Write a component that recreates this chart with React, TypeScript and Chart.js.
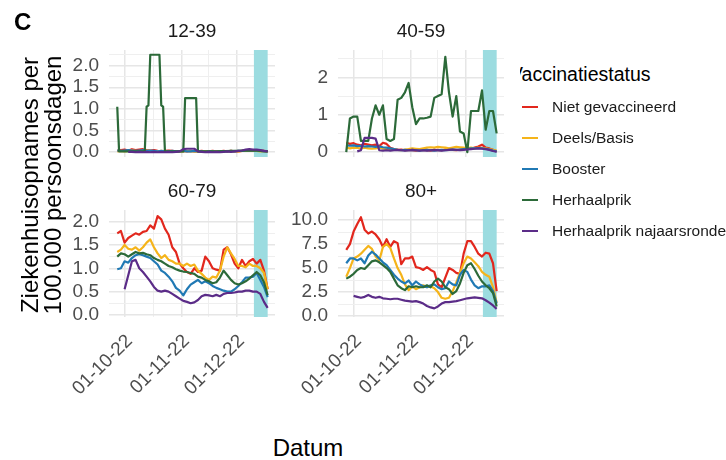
import React, { useEffect, useRef } from 'react';
import { Chart, registerables } from 'chart.js';
Chart.register(...registerables);

const FONT = '"Liberation Sans", Arial, Helvetica, sans-serif';

// ---------- data ----------
const days = [-4, -2, 0, 2, 4, 6, 8, 10, 12, 14, 16, 18, 20, 22, 24, 26, 28, 30, 32, 34, 36, 38, 40, 42, 44, 46, 48, 50, 52, 54, 56, 58, 60, 62, 64, 66, 68, 70, 72, 74, 76, 78];

const seriesNames = ['Niet gevaccineerd', 'Deels/Basis', 'Booster', 'Herhaalprik', 'Herhaalprik najaarsronde'];
const seriesColors = ['#E2271D', '#F5B41A', '#2079B4', '#2C6A39', '#5B2C88'];

const dateTicks = [0, 31, 61];
const dateLabels = ['01-10-22', '01-11-22', '01-12-22'];
const dateMinorTicks = [15.5, 46, 76];
const bandStart = 70.5;
const bandEnd = 78;

// 12-39
const niet1239 = [0.03,0.05,0.06,0.04,0.07,0.05,0.06,0.07,0.05,0.04,0.05,0.03,0.02,0.03,0.04,0.03,0.02,0.02,0.03,0.02,0.03,0.02,0.02,0.03,0.02,0.02,0.03,0.02,0.02,0.03,0.02,0.03,0.02,0.02,0.03,0.04,0.05,0.04,0.05,0.04,0.03,0.02];
const deels1239 = [0.02,0.03,0.02,0.03,0.04,0.03,0.02,0.03,0.04,0.03,0.02,0.02,0.03,0.02,0.01,0.02,0.02,0.01,0.02,0.03,0.02,0.02,0.01,0.02,0.02,0.01,0.02,0.02,0.01,0.02,0.02,0.03,0.02,0.02,0.03,0.03,0.04,0.03,0.03,0.02,0.02,0.01];
const booster1239 = [0.04,0.03,0.04,0.05,0.04,0.03,0.04,0.05,0.03,0.04,0.03,0.02,0.03,0.02,0.02,0.03,0.02,0.02,0.03,0.02,0.02,0.03,0.02,0.02,0.01,0.02,0.02,0.01,0.02,0.02,0.02,0.03,0.02,0.03,0.03,0.04,0.05,0.04,0.04,0.03,0.02,0.02];
const herhaalDays1239 = [-4, -3, 11, 12, 13, 14, 19, 20, 21, 22, 32, 33, 39, 40, 50, 60, 70, 78];
const herhaal1239 = [1.05, 0.02, 0.02, 1.05, 1.08, 2.25, 2.25, 1.08, 1.05, 0.02, 0.02, 1.25, 1.25, 0.02, 0.02, 0.03, 0.04, 0.02];
const najaar1239 = [null,null,null,0.01,0.01,0.0,0.01,0.0,0.01,0.0,0.01,0.0,0.01,0.0,0.01,0.0,0.01,0.02,0.07,0.08,0.08,0.08,0.02,0.01,0.0,0.01,0.0,0.01,0.0,0.01,0.02,0.01,0.02,0.03,0.04,0.06,0.07,0.06,0.06,0.05,0.03,0.02];

// 40-59
const niet4059 = [0.25,0.22,0.24,0.2,0.18,0.22,0.2,0.18,0.2,0.16,0.25,0.22,0.12,0.08,0.06,0.07,0.05,0.06,0.05,0.04,0.05,0.06,0.05,0.04,0.05,0.06,0.05,0.07,0.08,0.06,0.05,0.07,0.08,0.1,0.09,0.12,0.15,0.2,0.12,0.1,0.06,0.02];
const deels4059 = [0.12,0.1,0.12,0.11,0.1,0.12,0.1,0.09,0.1,0.12,0.1,0.08,0.07,0.08,0.06,0.05,0.07,0.08,0.1,0.09,0.08,0.1,0.12,0.13,0.12,0.14,0.13,0.12,0.1,0.12,0.14,0.13,0.12,0.11,0.12,0.1,0.12,0.11,0.1,0.08,0.06,0.04];
const booster4059 = [0.18,0.17,0.18,0.16,0.17,0.15,0.16,0.15,0.14,0.15,0.13,0.12,0.1,0.08,0.06,0.05,0.06,0.05,0.06,0.05,0.04,0.05,0.06,0.05,0.04,0.05,0.06,0.05,0.06,0.07,0.06,0.07,0.08,0.09,0.1,0.1,0.11,0.1,0.09,0.07,0.04,0.02];
const herhaal4059 = [0.0,0.9,0.95,0.95,0.3,0.3,0.3,0.9,1.25,1.0,1.25,0.35,0.3,0.35,1.4,1.45,1.6,1.85,1.2,0.75,0.9,0.9,0.92,0.95,1.45,1.5,1.55,2.55,1.6,0.95,1.5,0.55,0.5,0.0,1.1,1.1,1.1,1.65,0.6,1.1,1.1,0.5];
const najaar4059 = [null,null,null,0.02,0.05,0.38,0.38,0.38,0.36,0.05,0.04,0.05,0.04,0.05,0.06,0.05,0.04,0.05,0.06,0.05,0.04,0.05,0.04,0.05,0.06,0.05,0.04,0.05,0.06,0.07,0.06,0.05,0.06,0.07,0.08,0.09,0.1,0.09,0.08,0.06,0.03,0.01];

// 60-79
const niet6079 = [1.75,1.8,1.55,1.65,1.7,1.75,1.72,1.78,1.8,1.92,1.85,2.12,2.05,1.85,1.72,1.45,1.35,1.1,1.0,0.92,0.88,1.0,0.92,0.95,1.25,1.15,1.0,0.97,0.95,1.4,1.45,1.3,1.1,1.0,1.18,1.05,1.15,1.2,1.1,1.18,0.95,0.55];
const deels6079 = [1.35,1.4,1.5,1.42,1.4,1.45,1.38,1.45,1.55,1.62,1.45,1.32,1.22,1.28,1.18,1.15,1.1,1.1,1.05,1.1,1.05,1.08,0.95,0.88,0.8,0.75,0.82,0.8,0.95,1.25,1.45,1.32,1.2,1.05,1.05,1.02,1.1,1.05,1.05,1.0,0.9,0.55];
const booster6079 = [0.98,1.0,1.15,1.12,1.22,1.28,1.3,1.28,1.25,1.22,1.15,1.08,0.95,0.9,0.82,0.72,0.58,0.52,0.42,0.55,0.65,0.7,0.75,0.68,0.72,0.68,0.62,0.58,0.55,0.52,0.5,0.5,0.55,0.62,0.7,0.8,0.8,0.82,0.9,0.75,0.6,0.38];
const herhaal6079 = [1.25,1.32,1.3,1.25,1.3,1.35,1.32,1.33,1.3,1.28,1.22,1.18,1.15,1.1,1.05,1.02,0.98,0.95,0.93,0.92,0.9,0.88,0.82,0.8,0.75,0.72,0.68,0.7,0.8,0.95,0.85,0.75,0.68,0.65,0.68,0.72,0.78,0.85,0.92,0.85,0.7,0.42];
const najaar6079 = [null,null,0.55,0.85,1.15,1.18,1.0,0.92,0.82,0.72,0.6,0.52,0.5,0.52,0.5,0.45,0.4,0.35,0.3,0.28,0.25,0.27,0.32,0.4,0.43,0.42,0.4,0.43,0.4,0.45,0.47,0.47,0.48,0.5,0.5,0.52,0.52,0.5,0.5,0.45,0.28,0.15];

// 80+
const niet80 = [6.9,7.5,8.8,9.6,10.3,9.0,8.6,8.8,8.5,8.0,7.2,8.0,7.2,7.8,7.6,5.4,6.0,6.0,6.2,5.1,5.0,4.8,5.1,4.8,4.6,3.3,3.0,4.0,5.0,4.8,4.5,4.4,6.5,7.8,7.8,7.2,6.5,6.2,6.6,6.5,5.5,2.6];
const deels80 = [4.1,5.0,6.0,6.2,6.5,6.9,7.3,7.0,6.2,5.8,7.2,7.5,7.1,6.0,5.0,4.3,3.3,2.7,3.1,2.8,3.0,3.2,3.0,3.1,2.9,2.5,1.9,1.8,1.9,2.6,3.5,4.5,5.5,6.2,6.0,5.6,5.2,4.6,4.3,4.1,3.0,1.4];
const booster80 = [5.5,6.0,6.0,5.8,6.0,5.5,6.3,6.7,6.4,6.0,5.6,5.3,4.8,4.3,3.9,3.6,3.4,3.7,3.2,3.6,3.3,3.1,3.0,3.2,3.3,3.0,2.8,2.9,3.6,3.3,3.2,4.3,4.8,4.6,3.8,3.2,2.9,3.1,3.1,3.2,2.6,1.3];
const herhaal80 = [3.9,4.1,4.4,4.8,5.0,4.9,5.3,5.7,5.8,5.6,5.3,5.0,4.6,3.9,3.2,2.9,2.7,3.1,3.0,3.1,3.0,3.0,3.2,3.0,3.6,3.9,3.6,3.0,2.8,2.3,2.6,3.4,4.5,5.3,5.5,4.9,4.2,3.6,3.2,2.9,2.4,1.0];
const najaar80 = [null,null,2.1,2.0,1.9,2.0,2.2,2.0,1.9,2.0,1.85,1.8,1.75,1.8,1.8,1.7,1.6,1.55,1.5,1.55,1.45,1.3,1.05,0.9,0.8,1.0,1.3,1.45,1.45,1.5,1.55,1.65,1.75,1.85,1.9,1.95,1.9,1.85,1.65,1.4,1.1,0.75];

// y axis ticks
const yMajor1239 = [0, 0.5, 1, 1.5, 2];
const yMinor1239 = [0.25, 0.75, 1.25, 1.75, 2.25];
const yMajor4059 = [0, 1, 2];
const yMinor4059 = [0.5, 1.5, 2.5];
const yMajor6079 = [0, 0.5, 1, 1.5, 2];
const yMinor6079 = [0.25, 0.75, 1.25, 1.75];
const yMajor80 = [0, 2.5, 5, 7.5, 10];
const yMinor80 = [1.25, 3.75, 6.25, 8.75];

// ---------- layout / style ----------
const XMIN = -8.5;
const XMAX = 82;
const PW = 166;
const PH = 107;
const YW = 60;
const PT = 12;
const PR = 4;
const XH = 100;
const BAND = '#9CDCE0';
const GRID_MAJOR = '#E6E6E6';
const GRID_MINOR = '#EFEFEF';
const TICK_COLOR = '#4D4D4D';

type Series = { x: number[]; y: (number | null)[] };
type PanelSpec = {
  title: string;
  series: Series[];
  yMin: number;
  yMax: number;
  yMajor: number[];
  yMinor: number[];
  dec: number;
  left: number;
  top: number;
  showX: boolean;
};

const panels: PanelSpec[] = [
  {
    title: '12-39',
    series: [
      { x: days, y: niet1239 },
      { x: days, y: deels1239 },
      { x: days, y: booster1239 },
      { x: herhaalDays1239, y: herhaal1239 },
      { x: days, y: najaar1239 },
    ],
    yMin: -0.11, yMax: 2.36, yMajor: yMajor1239, yMinor: yMinor1239, dec: 1,
    left: 109, top: 50, showX: false,
  },
  {
    title: '40-59',
    series: [
      { x: days, y: niet4059 },
      { x: days, y: deels4059 },
      { x: days, y: booster4059 },
      { x: days, y: herhaal4059 },
      { x: days, y: najaar4059 },
    ],
    yMin: -0.13, yMax: 2.73, yMajor: yMajor4059, yMinor: yMinor4059, dec: 0,
    left: 338, top: 50, showX: false,
  },
  {
    title: '60-79',
    series: [
      { x: days, y: niet6079 },
      { x: days, y: deels6079 },
      { x: days, y: booster6079 },
      { x: days, y: herhaal6079 },
      { x: days, y: najaar6079 },
    ],
    yMin: -0.045, yMax: 2.25, yMajor: yMajor6079, yMinor: yMinor6079, dec: 1,
    left: 109, top: 210, showX: true,
  },
  {
    title: '80+',
    series: [
      { x: days, y: niet80 },
      { x: days, y: deels80 },
      { x: days, y: booster80 },
      { x: days, y: herhaal80 },
      { x: days, y: najaar80 },
    ],
    yMin: -0.1, yMax: 11.05, yMajor: yMajor80, yMinor: yMinor80, dec: 1,
    left: 338, top: 210, showX: true,
  },
];

const bandPlugin = {
  id: 'band',
  beforeDatasetsDraw(chart: any) {
    const { ctx, chartArea, scales } = chart;
    const x0 = scales.x.getPixelForValue(bandStart);
    const x1 = scales.x.getPixelForValue(bandEnd);
    ctx.save();
    ctx.fillStyle = BAND;
    ctx.fillRect(x0, chartArea.top, x1 - x0, chartArea.bottom - chartArea.top);
    ctx.restore();
  },
};

function zeroPad(axis: any) {
  axis.paddingLeft = 0;
  axis.paddingRight = 0;
  axis.paddingTop = 0;
  axis.paddingBottom = 0;
}

function PanelChart({ p }: { p: PanelSpec }) {
  const ref = useRef<HTMLCanvasElement>(null);
  const cw = YW + PW + PR;
  const bottomPad = p.showX ? 0 : 10;
  const ch = PT + PH + (p.showX ? XH : 0) + bottomPad;

  useEffect(() => {
    const datasets = p.series.map((s, i) => ({
      label: seriesNames[i],
      data: s.x.map((x, j) => ({ x, y: s.y[j] })),
      borderColor: seriesColors[i],
      backgroundColor: seriesColors[i],
      borderWidth: 2.2,
      pointRadius: 0,
      tension: 0,
      fill: false,
      spanGaps: false,
      order: 10 - i,
      borderJoinStyle: 'round',
    }));
    const chart = new Chart(ref.current as HTMLCanvasElement, {
      type: 'line',
      data: { datasets } as any,
      options: {
        responsive: false,
        animation: false,
        devicePixelRatio: 1,
        layout: { autoPadding: false, padding: { top: PT, right: PR, bottom: bottomPad, left: 0 } },
        plugins: { legend: { display: false }, tooltip: { enabled: false }, title: { display: false } },
        scales: {
          x: {
            type: 'linear',
            min: XMIN,
            max: XMAX,
            afterBuildTicks: (axis: any) => {
              axis.ticks = [...dateTicks, ...dateMinorTicks].sort((a, b) => a - b).map((v) => ({ value: v }));
            },
            afterFit: (axis: any) => {
              axis.height = p.showX ? XH : 0;
              zeroPad(axis);
            },
            grid: {
              drawTicks: false,
              color: (ctx: any) => (dateTicks.includes(ctx.tick?.value) ? GRID_MAJOR : GRID_MINOR),
              lineWidth: (ctx: any) => (dateTicks.includes(ctx.tick?.value) ? 1.5 : 1),
            },
            border: { display: false },
            ticks: {
              display: p.showX,
              autoSkip: false,
              minRotation: 45,
              maxRotation: 45,
              padding: 13,
              labelOffset: 5,
              color: TICK_COLOR,
              font: { family: FONT, size: 19 },
              callback: (v: any) => {
                const k = dateTicks.indexOf(v);
                return k >= 0 ? dateLabels[k] : '';
              },
            },
          },
          y: {
            type: 'linear',
            min: p.yMin,
            max: p.yMax,
            afterBuildTicks: (axis: any) => {
              axis.ticks = [...p.yMajor, ...p.yMinor].sort((a, b) => a - b).map((v) => ({ value: v }));
            },
            afterFit: (axis: any) => {
              axis.width = YW;
              zeroPad(axis);
            },
            grid: {
              drawTicks: false,
              color: (ctx: any) => (p.yMajor.includes(ctx.tick?.value) ? GRID_MAJOR : GRID_MINOR),
              lineWidth: (ctx: any) => (p.yMajor.includes(ctx.tick?.value) ? 1.5 : 1),
            },
            border: { display: false },
            ticks: {
              autoSkip: false,
              padding: 10,
              color: TICK_COLOR,
              font: { family: FONT, size: 19 },
              callback: (v: any) => (p.yMajor.includes(v) ? Number(v).toFixed(p.dec) : ''),
            },
          },
        },
      } as any,
      plugins: [bandPlugin],
    });
    return () => chart.destroy();
  }, []);

  return (
    <canvas
      ref={ref}
      width={cw}
      height={ch}
      style={{ position: 'absolute', left: p.left - YW, top: p.top - PT, width: cw, height: ch }}
    />
  );
}

const legendY = [106.5, 137.7, 168.9, 200.1, 231.3];

export default function App() {
  return (
    <div
      style={{
        position: 'fixed',
        left: 0,
        top: 0,
        width: 726,
        height: 460,
        background: '#ffffff',
        overflow: 'hidden',
        fontFamily: FONT,
      }}
    >
      {panels.map((p) => (
        <PanelChart key={p.title} p={p} />
      ))}
      {panels.map((p) => (
        <div
          key={'t' + p.title}
          style={{
            position: 'absolute',
            left: p.left,
            width: PW,
            top: p.top - 29,
            textAlign: 'center',
            fontSize: 19,
            lineHeight: '19px',
            color: '#1A1A1A',
            whiteSpace: 'nowrap',
          }}
        >
          {p.title}
        </div>
      ))}
      <div style={{ position: 'absolute', left: 14, top: 10, fontSize: 24, fontWeight: 700, lineHeight: '24px', color: '#000' }}>C</div>
      <div
        style={{
          position: 'absolute',
          left: 41 - 160,
          top: 185 - 23,
          width: 320,
          height: 46,
          transform: 'rotate(-90deg)',
          transformOrigin: '50% 50%',
          textAlign: 'center',
          fontSize: 24,
          lineHeight: '23px',
          color: '#000',
          whiteSpace: 'nowrap',
        }}
      >
        Ziekenhuisopnames per
        <br />
        100.000 persoonsdagen
      </div>
      <div
        style={{
          position: 'absolute',
          left: 208,
          width: 200,
          top: 436,
          textAlign: 'center',
          fontSize: 24,
          lineHeight: '24px',
          color: '#000',
        }}
      >
        Datum
      </div>
      <div style={{ position: 'absolute', left: 520, top: 64, width: 206, height: 24, overflow: 'hidden' }}>
        <div style={{ position: 'absolute', left: -10, top: 0, fontSize: 19.5, lineHeight: '20px', color: '#000', whiteSpace: 'nowrap' }}>
          Vaccinatiestatus
        </div>
      </div>
      {seriesNames.map((n, i) => (
        <React.Fragment key={n}>
          <div
            style={{
              position: 'absolute',
              left: 522,
              top: legendY[i] - 1,
              width: 16,
              height: 2,
              background: seriesColors[i],
            }}
          />
          <div
            style={{
              position: 'absolute',
              left: 552,
              top: legendY[i] - 9,
              fontSize: 15.5,
              lineHeight: '17px',
              color: '#1A1A1A',
              whiteSpace: 'nowrap',
            }}
          >
            {n}
          </div>
        </React.Fragment>
      ))}
    </div>
  );
}
